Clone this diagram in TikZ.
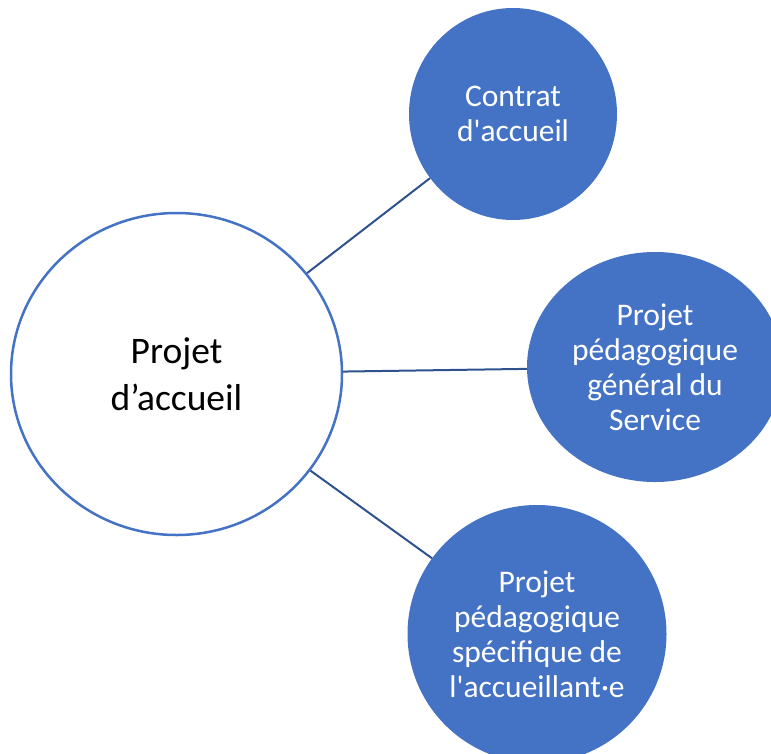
\documentclass[tikz,border=0pt]{standalone}
\usepackage{fontspec}
\setmainfont{Carlito}[Ligatures=TeXOff]
\usetikzlibrary{shapes.geometric}
\definecolor{accentblue}{HTML}{4472C4}
\definecolor{linkblue}{HTML}{2F528F}

\begin{document}
\begin{tikzpicture}[x=1pt,y=-1pt,
  hub/.style={ellipse,draw=accentblue,line width=2.5pt,fill=white,inner sep=0pt,
    align=center,font=\fontsize{37.5}{47}\selectfont},
  spoke/.style={ellipse,fill=accentblue,inner sep=0pt,align=center,
    text=white,font=\fontsize{31.5}{35}\selectfont},
  link/.style={draw=linkblue,line width=2pt}]
  \useasboundingbox (0,0) rectangle (771,753);
  \clip (0,0) rectangle (771,753);

  % Central project
  \node[hub,minimum width=331pt,minimum height=322pt] (accueil) at (176.5,374)
    {Projet\\d’accueil};

  % Satellites
  \node[spoke,minimum width=208pt,minimum height=212pt] (contrat) at (513,114)
    {Contrat\\d'accueil};
  \node[spoke,minimum width=256pt,minimum height=230pt] (general) at (655,367)
    {Projet\\pédagogique\\général du\\Service};
  \node[spoke,minimum width=259pt,minimum height=258pt] (specifique) at (537,634)
    {Projet\\pédagogique\\spécifique de\\l'accueillant·e};

  % Links
  \draw[link] (accueil) -- (contrat);
  \draw[link] (accueil) -- (general);
  \draw[link] (accueil) -- (specifique);
\end{tikzpicture}
\end{document}
